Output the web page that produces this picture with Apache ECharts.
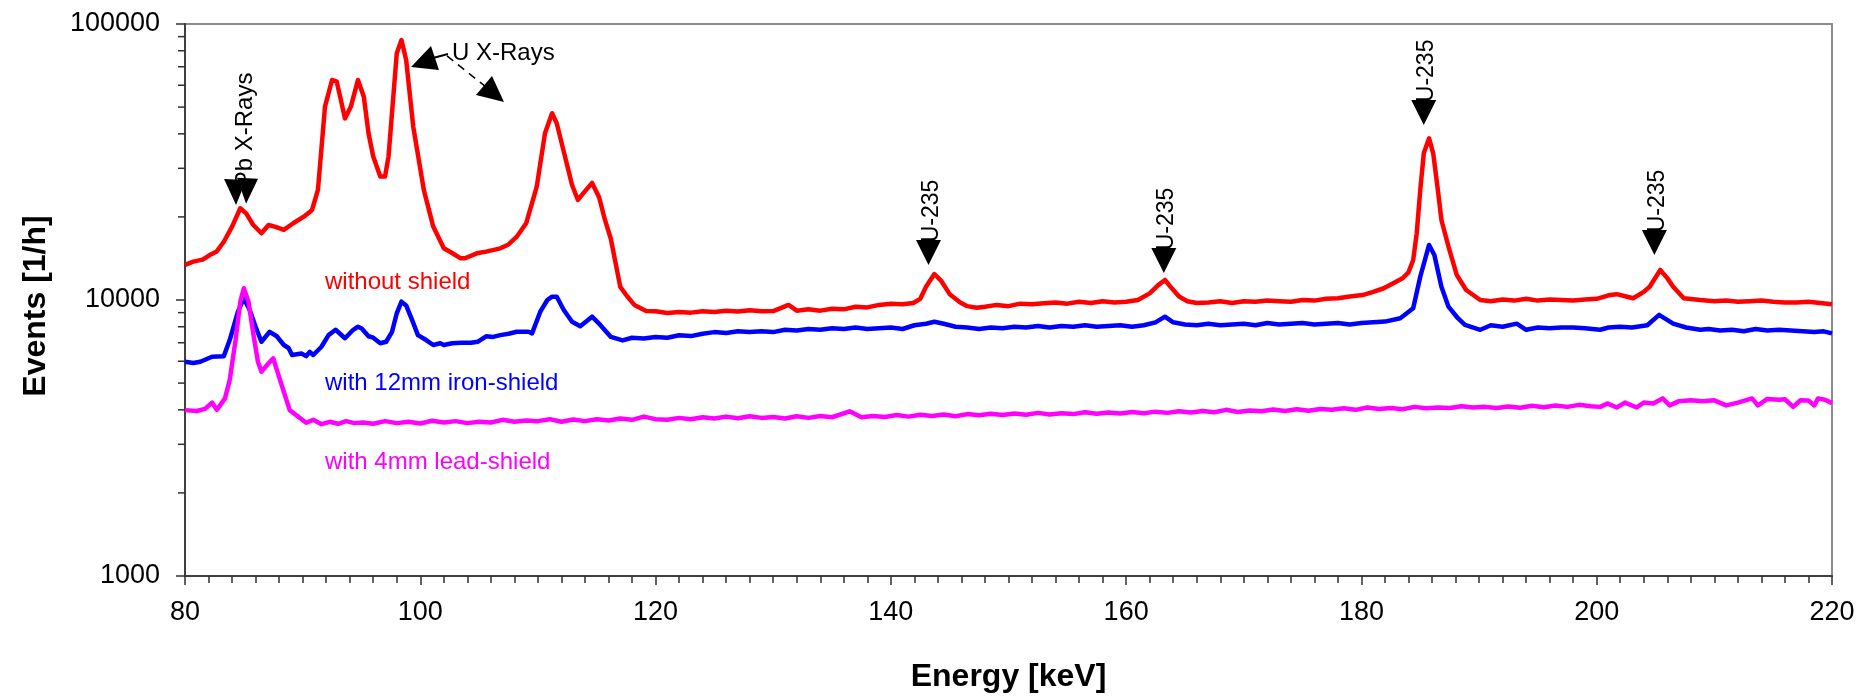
<!DOCTYPE html>
<html>
<head>
<meta charset="utf-8">
<script src="https://cdn.jsdelivr.net/npm/echarts@6/dist/echarts.min.js"></script>
<style>
html,body{margin:0;padding:0;background:#fff;}
#chart{width:1870px;height:696px;}
</style>
</head>
<body>
<div id="chart"></div>
<script>
// ---------- data (energy keV, events per hour) ----------
const xTickLabels = [80, 100, 120, 140, 160, 180, 200, 220];
const yTickLabels = [1000, 10000, 100000];
const seriesNames = ['without shield', 'with 12mm iron-shield', 'with 4mm lead-shield'];

const redSpectrum = [
[80,13400],[80.7,13770],[81.5,14000],[82.1,14550],[82.7,15000],[83.3,16260],[84.0,18450],[84.7,21500],[85.2,20600],[85.8,18700],
[86.5,17450],[87.1,18700],[87.7,18400],[88.4,17950],[89.2,18970],[90.1,20040],[90.8,21200],[91.3,25050],[91.9,50200],[92.5,62700],
[92.9,61800],[93.6,45500],[94.1,50200],[94.7,62700],[95.2,54500],[95.6,40200],[96.0,33100],[96.6,28000],[97.0,28000],[97.3,33100],
[98.0,78300],[98.4,87500],[98.8,74100],[99.4,42500],[100.3,25050],[101.1,18450],[102.0,15390],[102.7,14800],[103.4,14170],[103.8,14170],
[104.8,14760],[105.6,14970],[106.8,15390],[107.5,15900],[108.2,16960],[109.0,18970],[109.9,25760],[110.6,40200],[111.2,47500],[111.6,43700],
[112.3,33100],[112.9,26100],[113.4,23040],[113.9,24500],[114.6,26550],[115.2,23560],[115.7,19500],[116.2,16630],[117.0,11160],[117.6,10300],
[118.2,9600],[119.2,9130],[120,9100],[121,8980],[122,9050],[123,9000],[124,9100],[125,9050],[126,9150],[127,9080],
[128,9180],[129,9100],[130,9120],[131.3,9600],[132,9150],[133,9250],[134,9150],[135,9300],[136,9250],[137,9450],
[138,9400],[139,9600],[140,9700],[141,9650],[141.9,9750],[142.5,10100],[143.0,11200],[143.7,12420],[144.3,11700],[145.0,10500],
[145.9,9800],[146.5,9500],[147.3,9380],[148,9450],[149,9600],[150,9500],[151,9700],[152,9650],[153,9740],[154,9800],
[155,9700],[156,9850],[157,9750],[158,9900],[159,9800],[160,9850],[161,10000],[162,10570],[162.7,11300],[163.3,11820],
[163.9,11000],[164.5,10300],[165.2,9900],[166,9750],[167,9800],[168,9900],[169,9750],[170,9900],[171,9850],[172,9950],
[173,9900],[174,9850],[175,10000],[176,9950],[177,10100],[178,10150],[179,10300],[180.1,10420],[181,10700],[181.9,11030],
[182.7,11500],[183.5,11990],[184.0,12600],[184.4,13960],[184.7,17450],[185.0,25000],[185.3,34000],[185.75,38550],[186.1,34000],[186.5,25000],
[186.8,19500],[187.4,15600],[188.1,12330],[188.9,10870],[190.1,10000],[191,9900],[192,10050],[193,9950],[194,10100],[195,9950],
[196,10050],[197,10000],[198,9950],[199,10050],[200,10100],[201,10400],[201.7,10500],[202.5,10300],[203.1,10150],[204,10700],
[204.5,11170],[205.4,12850],[206,12000],[206.5,11170],[207.4,10150],[208.8,10000],[210,9900],[211,9950],[212,9850],[213,9900],
[214,9950],[215,9850],[216,9800],[217,9800],[218,9850],[219,9750],[220,9650]
];

const blueSpectrum = [
[80,5975],[80.7,5910],[81.3,5975],[82.3,6230],[83.3,6260],[83.8,7160],[84.5,9070],[85.0,10140],[85.5,9200],[86.0,8000],
[86.5,7060],[87.2,7670],[87.8,7390],[88.4,6870],[88.8,6700],[89.1,6320],[89.9,6400],[90.3,6260],[90.6,6490],[90.9,6320],
[91.6,6770],[92.2,7460],[92.8,7800],[93.6,7270],[94.3,7800],[94.7,8000],[95.0,7900],[95.6,7390],[96.0,7300],[96.6,6970],
[97.1,7060],[97.6,7670],[98.0,8950],[98.4,9860],[98.8,9560],[99.3,8470],[99.8,7460],[100.5,7160],[101.1,6870],[101.7,6970],
[102.0,6870],[102.7,6970],[103.5,7000],[104.3,7000],[104.9,7060],[105.6,7390],[106.2,7350],[106.8,7460],[107.5,7550],[108.2,7670],
[109.2,7670],[109.5,7570],[110.2,9070],[110.8,10000],[111.2,10280],[111.6,10280],[112.2,9200],[112.9,8340],[113.6,8040],[114.6,8700],
[115.3,8120],[116.2,7350],[117.2,7140],[118,7300],[119,7250],[120,7350],[121,7300],[122,7450],[123,7400],[124,7550],
[125,7650],[126,7600],[127,7700],[128,7650],[129,7700],[130,7650],[131,7800],[132,7750],[133,7850],[134,7800],
[135,7900],[136,7850],[137,7950],[138,7850],[139,7900],[140,7950],[141,7850],[142,8100],[143,8200],[143.7,8340],
[144.5,8200],[145.5,8000],[146.5,7950],[147.5,7850],[148.5,7950],[149.5,7900],[150.5,8000],[151.5,7950],[152.5,8050],[153.5,7950],
[154.5,8050],[155.5,8000],[156.5,8100],[157.5,8000],[158.5,8050],[159.5,8100],[160.5,8000],[161.5,8100],[162.5,8300],[163.3,8700],
[164,8300],[165,8150],[166,8100],[167,8200],[168,8100],[169,8150],[170,8200],[171,8100],[172,8250],[173,8150],
[174,8200],[175,8250],[176,8150],[177,8200],[178,8250],[179,8150],[180,8250],[181,8300],[182,8350],[183.3,8590],
[184.4,9330],[185.0,12140],[185.75,15830],[186.2,14550],[186.8,11170],[187.4,9460],[188.2,8590],[188.8,8120],[190.1,7800],[191,8100],
[192,8000],[193.2,8210],[194,7800],[195,7950],[196,7900],[197,7950],[198,7950],[199,7900],[200.3,7800],[201,7950],
[202,8000],[203,7950],[204.3,8100],[205.3,8830],[206.5,8210],[207.6,7950],[208.8,7800],[209.5,7850],[210.5,7750],[211.5,7800],
[212.5,7700],[213.5,7850],[214.5,7750],[215.5,7800],[216.5,7750],[217.5,7700],[218.5,7650],[219.3,7700],[220,7570]
];

const magentaSpectrum = [
[80,3990],[81.0,3960],[81.7,4030],[82.3,4250],[82.7,4000],[83.4,4400],[83.8,5130],[84.3,7160],[84.7,9860],[85.0,11030],
[85.4,9860],[85.8,7570],[86.2,5975],[86.5,5500],[87.1,5900],[87.5,6150],[87.9,5420],[88.4,4650],[88.9,3990],[89.8,3730],
[90.3,3590],[90.9,3680],[91.6,3550],[92.3,3620],[93.0,3560],[93.7,3640],[94.4,3580],[95.1,3600],[96,3560],[97,3640],
[98,3580],[99,3620],[100,3570],[101,3650],[102,3600],[103,3640],[104,3580],[105,3620],[106,3600],[107,3680],
[108,3620],[109,3660],[110,3640],[111,3700],[112,3620],[113,3690],[114,3640],[115,3700],[116,3660],[117,3720],
[118,3680],[119,3780],[120,3700],[121,3680],[122,3740],[123,3700],[124,3760],[125,3720],[126,3780],[127,3730],
[128,3790],[129,3740],[130,3770],[131,3720],[132,3790],[133,3740],[134,3800],[135,3760],[136.5,3950],[137.5,3760],
[138.5,3800],[139.5,3770],[140.5,3830],[141.5,3780],[142.5,3840],[143.5,3800],[144.5,3850],[145.5,3790],[146.5,3860],[147.5,3820],
[148.5,3870],[149.5,3830],[150.5,3880],[151.5,3840],[152.5,3900],[153.5,3850],[154.5,3890],[155.5,3860],[156.5,3920],[157.5,3870],
[158.5,3910],[159.5,3880],[160.5,3930],[161.5,3890],[162.5,3940],[163.5,3900],[164.5,3950],[165.5,3910],[166.5,3960],[167.5,3920],
[168.5,4000],[169.5,3930],[170.5,3980],[171.5,3950],[172.5,4010],[173.5,3960],[174.5,4020],[175.5,3970],[176.5,4030],[177.5,4000],
[178.5,4050],[179.5,4000],[180.5,4080],[181.5,4030],[182.5,4060],[183.5,4020],[184.5,4100],[185.5,4050],[186.5,4080],[187.5,4060],
[188.5,4120],[189.5,4080],[190.5,4100],[191.5,4060],[192.5,4110],[193.5,4070],[194.5,4140],[195.5,4090],[196.5,4150],[197.5,4100],
[198.5,4170],[199.5,4120],[200.3,4100],[200.9,4220],[201.7,4080],[202.4,4250],[203.4,4080],[204,4250],[204.8,4220],[205.6,4400],
[206.2,4150],[207,4300],[208,4330],[209,4300],[210,4330],[211,4150],[212,4250],[213.2,4400],[213.7,4150],[214.5,4380],
[215.5,4350],[216,4370],[216.7,4100],[217.3,4330],[218,4320],[218.5,4150],[218.8,4400],[219.4,4350],[220,4230]
];

// annotation anchors (data space: keV, events/h)
const u235Arrows = [[143.2,13400],[163.2,12530],[185.3,43100],[204.9,14560]];
const pbArrowTips = [[84.34,22100],[85.19,22300]];
const uXrayArrowTip = [99.21,69900];
const seriesLabelAnchors = [[91.9,11620],[91.9,5000],[91.9,2590]];
const yMinorValues = [2000,3000,4000,5000,6000,7000,8000,9000,20000,30000,40000,50000,60000,70000,80000,90000];

// ---------- chart ----------
const FONT = '"Liberation Sans", Arial, Helvetica, sans-serif';
const colors = ['#FF0000', '#0000FF', '#FF00FF'];
const chart = echarts.init(document.getElementById('chart'), null, {renderer: 'canvas'});

chart.setOption({
  animation: false,
  backgroundColor: '#ffffff',
  grid: {left: 185, right: 38, top: 24, bottom: 120, show: true, borderColor: '#8c8c8c', borderWidth: 2, backgroundColor: 'transparent'},
  xAxis: {
    type: 'value', min: 80, max: 220, interval: 20,
    axisLine: {show: true, onZero: false, lineStyle: {color: '#404040', width: 2}},
    axisTick: {show: true, length: 9, lineStyle: {color: '#303030', width: 1.5}},
    minorTick: {show: true, splitNumber: 10, length: 7, lineStyle: {color: '#303030', width: 1.5}},
    splitLine: {show: false},
    axisLabel: {margin: 23, fontFamily: FONT, fontSize: 27, color: '#000',
      formatter: v => (xTickLabels.indexOf(Math.round(v)) >= 0 ? String(Math.round(v)) : '')}
  },
  yAxis: {
    type: 'log', logBase: 10, min: 1000, max: 100000,
    axisLine: {show: true, onZero: false, lineStyle: {color: '#404040', width: 2}},
    axisTick: {show: true, length: 9, lineStyle: {color: '#303030', width: 1.5}},
    splitLine: {show: false},
    axisLabel: {margin: 25, fontFamily: FONT, fontSize: 27, color: '#000',
      formatter: v => { const r = Math.round(v); return yTickLabels.indexOf(r) >= 0 ? String(r) : ''; }}
  },
  series: [
    {name: seriesNames[0], type: 'line', data: redSpectrum, showSymbol: false, lineStyle: {color: colors[0], width: 4.5, join: 'round'}, z: 3},
    {name: seriesNames[1], type: 'line', data: blueSpectrum, showSymbol: false, lineStyle: {color: colors[1], width: 4.5, join: 'round'}, z: 4},
    {name: seriesNames[2], type: 'line', data: magentaSpectrum, showSymbol: false, lineStyle: {color: colors[2], width: 4.5, join: 'round'}, z: 5}
  ]
});

function px(p) { return chart.convertToPixel({gridIndex: 0}, p); }

const g = [];
// y minor ticks (log)
const x0 = px([80, 1000])[0];
yMinorValues.forEach(v => {
  const y = px([80, v])[1];
  g.push({type: 'line', shape: {x1: x0 - 7, y1: y, x2: x0, y2: y}, style: {stroke: '#303030', lineWidth: 1.5}, z: 10});
});

// axis titles
g.push({type: 'text', x: (px([80,1000])[0] + px([220,1000])[0]) / 2, y: 677,
  style: {text: 'Energy [keV]', font: 'bold 32px ' + FONT, fill: '#000', align: 'center', verticalAlign: 'middle'}, z: 10});
g.push({type: 'text', x: 36, y: 306, rotation: Math.PI / 2,
  style: {text: 'Events [1/h]', font: 'bold 32px ' + FONT, fill: '#000', align: 'center', verticalAlign: 'middle'}, z: 10});

// series labels
seriesLabelAnchors.forEach((a, i) => {
  const p = px(a);
  g.push({type: 'text', x: p[0], y: p[1],
    style: {text: seriesNames[i], font: '24px ' + FONT, fill: colors[i], align: 'left', verticalAlign: 'middle'}, z: 10});
});

// U-235 arrows + labels
u235Arrows.forEach(a => {
  const p = px(a);
  g.push({type: 'text', x: p[0] + 3, y: p[1] - 54, rotation: Math.PI / 2,
    style: {text: 'U-235', font: '23px ' + FONT, fill: '#000', align: 'center', verticalAlign: 'middle'}, z: 10});
  g.push({type: 'polygon', shape: {points: [[p[0] - 12.5, p[1] - 25], [p[0] + 12.5, p[1] - 25], [p[0], p[1]]]},
    style: {fill: '#000'}, z: 11});
});

// Pb X-Rays
(function () {
  const a = px(pbArrowTips[0]);
  const b = px(pbArrowTips[1]);
  g.push({type: 'text', x: (a[0] + b[0]) / 2 + 4, y: a[1] - 75, rotation: Math.PI / 2,
    style: {text: 'Pb X-Rays', font: '24px ' + FONT, fill: '#000', align: 'center', verticalAlign: 'middle'}, z: 10});
  g.push({type: 'polygon', shape: {points: [[a[0] - 12, a[1] - 26], [a[0] + 10, a[1] - 25], [a[0], a[1]]]}, style: {fill: '#000'}, z: 11});
  g.push({type: 'polygon', shape: {points: [[b[0] - 9, b[1] - 26], [b[0] + 12, b[1] - 25], [b[0], b[1]]]}, style: {fill: '#000'}, z: 11});
})();

// U X-Rays
(function () {
  const t = px(uXrayArrowTip);
  const ox = t[0], oy = t[1];
  g.push({type: 'text', x: ox + 41, y: oy - 14,
    style: {text: 'U X-Rays', font: '24px ' + FONT, fill: '#000', align: 'left', verticalAlign: 'middle'}, z: 10});
  g.push({type: 'line', shape: {x1: ox + 37, y1: oy - 13, x2: ox + 22, y2: oy - 9}, style: {stroke: '#000', lineWidth: 2}, z: 11});
  g.push({type: 'polygon', shape: {points: [[ox, oy], [ox + 28, oy + 3], [ox + 20, oy - 21]]}, style: {fill: '#000'}, z: 11});
  g.push({type: 'line', shape: {x1: ox + 36, y1: oy - 11, x2: ox + 75, y2: oy + 20},
    style: {stroke: '#000', lineWidth: 1.5, lineDash: [8, 6]}, z: 11});
  const tx = ox + 93, ty = oy + 35;
  g.push({type: 'polygon', shape: {points: [[tx, ty], [tx - 28, ty - 7], [tx - 12, ty - 26]]}, style: {fill: '#000'}, z: 11});
})();

chart.setOption({graphic: {elements: g}});
</script>
</body>
</html>
